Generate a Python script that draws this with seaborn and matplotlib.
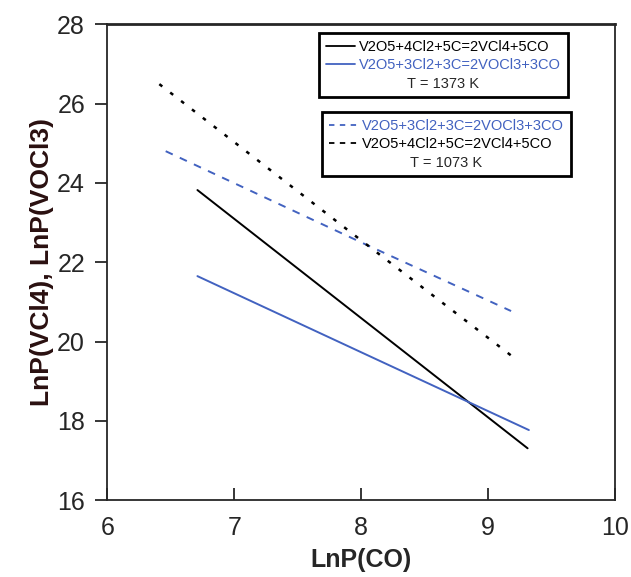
import matplotlib
matplotlib.use("Agg")
import matplotlib.pyplot as plt
from matplotlib.lines import Line2D
import pandas as pd
import seaborn as sns

# values (LnP(CO) vs LnP(VCl4)/LnP(VOCl3))
x_vcl4_1373 = [6.71, 8.0, 9.31]
y_vcl4_1373 = [23.82, 20.59, 17.31]
x_vocl3_1373 = [6.71, 8.0, 9.32]
y_vocl3_1373 = [21.65, 19.73, 17.77]
x_vocl3_1073 = [6.46, 8.0, 9.18]
y_vocl3_1073 = [24.80, 22.50, 20.77]
x_vcl4_1073 = [6.41, 8.0, 9.20]
y_vcl4_1073 = [26.49, 22.55, 19.60]

lab_vcl4 = "V2O5+4Cl2+5C=2VCl4+5CO"
lab_vocl3 = "V2O5+3Cl2+3C=2VOCl3+3CO"

blue = "#4262c0"

sns.set_style("ticks")
plt.rcParams["font.family"] = ["Liberation Sans", "DejaVu Sans"]

fig = plt.figure(figsize=(6.31, 5.77), dpi=100)
ax = fig.add_axes([0.170, 0.133, 0.805, 0.825])

series = [
    (x_vcl4_1373, y_vcl4_1373, "k", "-", 1.4),
    (x_vocl3_1373, y_vocl3_1373, blue, "-", 1.4),
    (x_vocl3_1073, y_vocl3_1073, blue, (0, (4, 4)), 1.4),
    (x_vcl4_1073, y_vcl4_1073, "k", (0, (1.5, 4)), 1.8),
]
for xs, ys, c, ls, lw in series:
    df = pd.DataFrame({"x": xs, "y": ys})
    sns.lineplot(data=df, x="x", y="y", ax=ax, color=c, linestyle=ls,
                 linewidth=lw, legend=False)

ax.set_xlim(6, 10)
ax.set_ylim(16, 28)
ax.set_xticks([6, 7, 8, 9, 10])
ax.set_yticks([16, 18, 20, 22, 24, 26, 28])
# little stub below the origin, like the original frame
ax.set_xticks([6], minor=True)
ax.tick_params(axis="x", which="minor", direction="out", length=9, width=1.3)
ax.tick_params(axis="x", direction="in", length=9, width=1.3, labelsize=18, pad=11)
ax.tick_params(axis="y", direction="out", length=9, width=1.3, labelsize=18, pad=7)
for s in ax.spines.values():
    s.set_linewidth(1.3)
ax.spines["top"].set_linewidth(2)

ax.set_xlabel("LnP(CO)", fontsize=18, fontweight="bold", labelpad=6)
ax.set_ylabel("LnP(VCl4), LnP(VOCl3)", fontsize=19, fontweight="bold",
              color="#2a1010", labelpad=2.5)


def box(handles, labels, colors, title, anchor):
    leg = ax.legend(handles, labels, title=title, loc="upper left",
                    bbox_to_anchor=anchor, fontsize=10.5, title_fontsize=10.5,
                    handlelength=2.0, handletextpad=0.3, borderpad=0.45,
                    labelspacing=0.3, fancybox=False, framealpha=1,
                    edgecolor="black", borderaxespad=0)
    leg.get_frame().set_linewidth(2)
    for t, c in zip(leg.get_texts(), colors):
        t.set_color(c)
    # put the temperature line under the entries
    leg._legend_box._children.reverse()
    return leg


h1 = [Line2D([], [], color="k", lw=1.3), Line2D([], [], color=blue, lw=1.3)]
leg1 = box(h1, [lab_vcl4, lab_vocl3], ["k", blue], "T = 1373 K", (0.417, 0.981))
ax.add_artist(leg1)
h2 = [Line2D([], [], color=blue, lw=1.3, ls=(0, (3, 3))),
      Line2D([], [], color="k", lw=1.3, ls=(0, (3, 3)))]
box(h2, [lab_vocl3, lab_vcl4], [blue, "k"], "T = 1073 K", (0.423, 0.815))

fig.savefig("out.png", dpi=100)
